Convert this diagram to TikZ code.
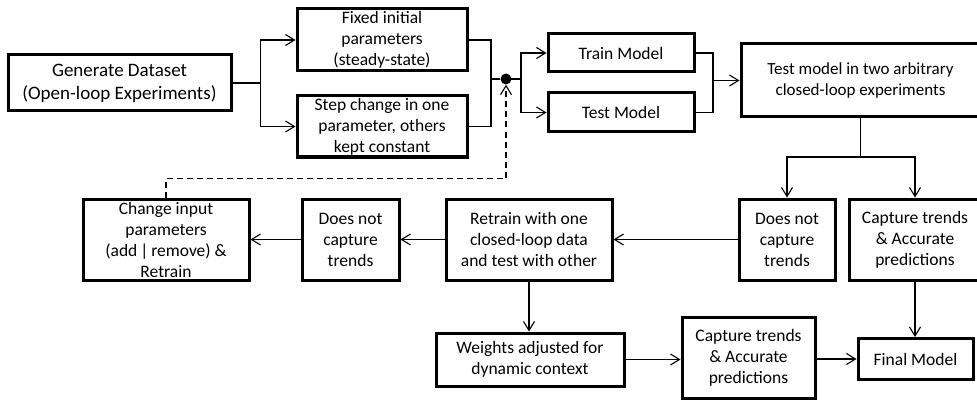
\documentclass[tikz,border=0pt]{standalone}
\usepackage{fontspec}
\setmainfont{Carlito}
\usetikzlibrary{arrows.meta,calc}
\begin{document}
\begin{tikzpicture}[x=1pt,y=-1pt,
  box/.style={draw=black,line width=3pt,fill=white,inner sep=0pt,align=center,
    font=\fontsize{17.5}{21}\selectfont},
  conn/.style={line width=1.1pt,-{Straight Barb[length=9pt,width=11pt,line width=1.1pt]}},
  plain/.style={line width=1.1pt},
  dashconn/.style={line width=1.1pt,dash pattern=on 6pt off 4pt,-{Straight Barb[length=9pt,width=11pt,line width=1.1pt]}}
]
\useasboundingbox (0,0) rectangle (977,401);
\fill[white] (0,0) rectangle (977,401);

\node[box,minimum width=223pt,minimum height=56pt,font=\fontsize{19}{23}\selectfont] (gen) at (119.5,83) {Generate Dataset\\(Open-loop Experiments)};
\node[box,minimum width=170pt,minimum height=62pt] (fixed) at (382,40) {Fixed initial\\parameters\\(steady-state)};
\node[box,minimum width=170pt,minimum height=61pt] (stepc) at (382,126.5) {Step change in one\\parameter, others\\kept constant};
\node[box,minimum width=146pt,minimum height=38pt] (train) at (621,53) {Train Model};
\node[box,minimum width=146pt,minimum height=39pt] (test) at (621,112.5) {Test Model};
\node[box,minimum width=239pt,minimum height=73pt,font=\fontsize{17}{21}\selectfont] (tmtwo) at (860.5,80.5) {Test model in two arbitrary\\closed-loop experiments};
\node[box,minimum width=96pt,minimum height=81pt] (dnc1) at (787,239.5) {Does not\\capture\\trends};
\node[box,minimum width=132pt,minimum height=81pt] (cap1) at (915,239.5) {Capture trends\\\& Accurate\\predictions};
\node[box,minimum width=166pt,minimum height=81pt] (retrain) at (529,239.5) {Retrain with one\\closed-loop data\\and test with other};
\node[box,minimum width=97pt,minimum height=81pt] (dnc2) at (350.5,239.5) {Does not\\capture\\trends};
\node[box,minimum width=166pt,minimum height=81pt] (change) at (166,239.5) {Change input\\parameters\\(add\,|\,remove) \&\\Retrain};
\node[box,minimum width=188pt,minimum height=53pt] (weights) at (530,359.5) {Weights adjusted for\\dynamic context};
\node[box,minimum width=133pt,minimum height=81pt] (cap2) at (748.5,357.5) {Capture trends\\\& Accurate\\predictions};
\node[box,minimum width=115pt,minimum height=41pt] (final) at (915.5,359) {Final Model};

\node[circle,fill=black,inner sep=0pt,minimum size=11pt] (dot) at (506,79) {};
\coordinate (m1) at (491,79);
\coordinate (m2) at (713,80.5);
\coordinate (split) at (860.5,157);

% dataset branches
\draw[conn] (gen.east) -- ++(28,0) |- (fixed.west);
\draw[conn] (gen.east) -- ++(28,0) |- (stepc.west);
\draw[plain] (fixed.east) -| (m1);
\draw[plain] (stepc.east) -| (m1);
\draw[plain] (m1) -- (dot);
\draw[conn] (dot.center) -- ++(15,0) |- (train.west);
\draw[conn] (dot.center) -- ++(15,0) |- (test.west);
\draw[plain] (train.east) -| (m2);
\draw[plain] (test.east) -| (m2);
\draw[conn] (m2) -- (tmtwo.west);
\draw[plain] (tmtwo.south) -- (split);
\draw[conn] (split) -| (dnc1.north);
\draw[conn] (split) -| (cap1.north);
\draw[conn] (dnc1.west) -- (retrain.east);
\draw[conn] (retrain.west) -- (dnc2.east);
\draw[conn] (dnc2.west) -- (change.east);
\draw[dashconn] (change.north) -- ++(0,-19) -| (dot.south);
\draw[conn] (retrain.south) -- (retrain.south |- weights.north);
\draw[conn] (weights.east) -- (weights.east -| cap2.west);
\draw[conn] (cap2.east |- final.west) -- (final.west);
\draw[conn] (cap1.south) -- (cap1.south |- final.north);
\end{tikzpicture}
\end{document}
